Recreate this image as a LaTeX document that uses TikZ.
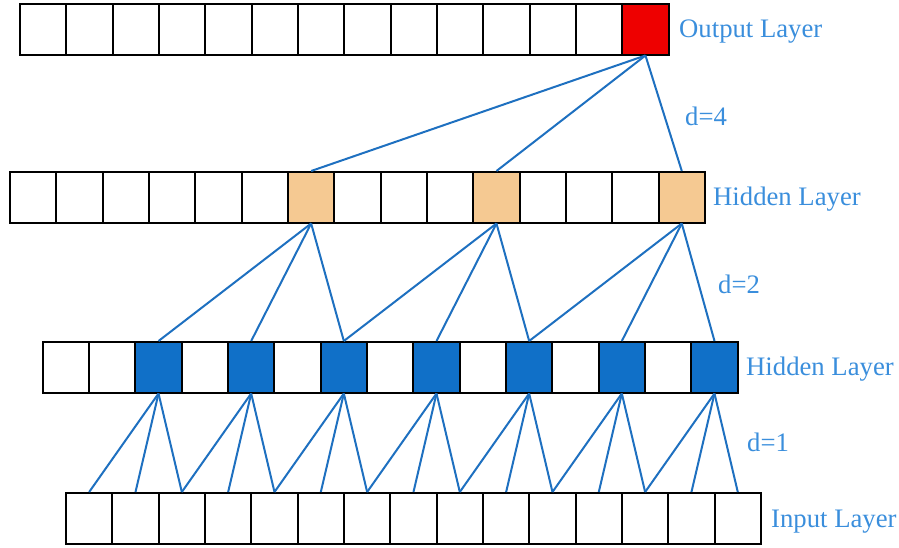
\documentclass[tikz,border=0pt]{standalone}
\usepackage{fontspec}
\setmainfont{Liberation Serif}

\definecolor{outred}{HTML}{EE0000}
\definecolor{cellorange}{HTML}{F5C992}
\definecolor{cellblue}{HTML}{1070C8}
\definecolor{linkblue}{HTML}{1E70C0}
\definecolor{textblue}{HTML}{3A8EDC}

\tikzset{
  cell/.style={draw, line width=2pt, minimum width=46.33pt, minimum height=50.5pt,
    inner sep=0pt, anchor=north west, fill=white},
  link/.style={draw=linkblue, line width=2pt},
  layername/.style={text=textblue, font=\fontsize{26.7}{31}\selectfont, inner sep=0pt, anchor=base west}
}

\begin{document}
\begin{tikzpicture}[x=1pt, y=-1pt]
      \useasboundingbox (0,0) rectangle (899,547);

      % Draw the output layer
      \foreach \i in {0,...,12}
        \node[cell] (out\i) at ({19+46.33*\i},3) {};
      \node[cell, fill=outred] (out13) at ({19+46.33*13},3) {};

      % Draw the first hidden layer
      \foreach \i in {0,...,14} {
        \pgfmathtruncatemacro\hot{(mod(\i,4)==2)&&(\i>2)}
        \ifnum\hot=1 \def\cellfill{cellorange}\else\def\cellfill{white}\fi
        \node[cell, fill=\cellfill] (hid\i) at ({9+46.33*\i},171) {};
      }

      % Draw the second hidden layer
      \foreach \i in {0,...,14} {
        \pgfmathtruncatemacro\hot{(mod(\i,2)==0)&&(\i>0)}
        \ifnum\hot=1 \def\cellfill{cellblue}\else\def\cellfill{white}\fi
        \node[cell, fill=\cellfill] (mid\i) at ({41.7+46.33*\i},341) {};
      }

      % Draw the input layer
      \foreach \i in {0,...,14}
        \node[cell] (inp\i) at ({65+46.33*\i},492) {};

      % Draw the dilated links
      \foreach \k in {6,10,14}
        \draw[link] (out13.south) -- (hid\k.north);
      \foreach \k in {6,10,14}
        \foreach \j in {4,2,0} {
          \pgfmathtruncatemacro\t{\k-\j}
          \draw[link] (hid\k.south) -- (mid\t.north);
        }
      \foreach \k in {2,4,...,14}
        \foreach \j in {2,1,0} {
          \pgfmathtruncatemacro\t{\k-\j}
          \draw[link] (mid\k.south) -- (inp\t.north);
        }

      % Layer names and dilations
      \node[layername] (outname) at (679,37) {Output Layer};
      \node[layername] (hidname) at (713,205) {Hidden Layer};
      \node[layername] (midname) at (746,375) {Hidden Layer};
      \node[layername] (inpname) at (771,527) {Input Layer};
      \node[layername] (dfour) at (685,125) {d=4};
      \node[layername] (dtwo) at (718,293) {d=2};
      \node[layername] (done) at (747,451) {d=1};
\end{tikzpicture}
\end{document}
